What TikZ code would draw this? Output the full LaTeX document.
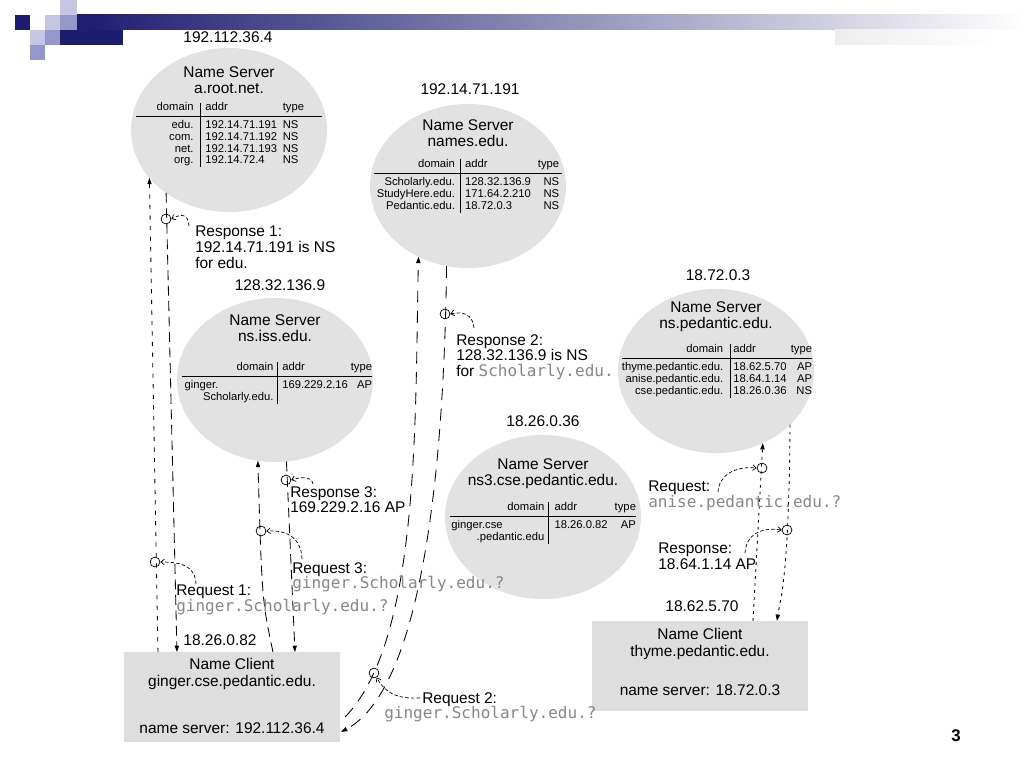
\documentclass[tikz,border=0pt]{standalone}
\usepackage{fontspec}
\setmainfont{Liberation Sans}
\setmonofont{DejaVu Sans Mono}
\usetikzlibrary{shapes.geometric, arrows.meta, calc, positioning}
\definecolor{navy}{RGB}{28, 28, 112}
\definecolor{lavender}{RGB}{198, 198, 228}
\definecolor{lavmid}{RGB}{150, 150, 202}
\definecolor{bandmid}{RGB}{180, 180, 208}
\definecolor{srvfill}{RGB}{226, 226, 226}
\definecolor{clifill}{RGB}{222, 222, 222}
\definecolor{codegray}{RGB}{135, 135, 135}
\newcommand{\srvtitle}{\fontsize{11}{11.5}\selectfont}
\newcommand{\tabfont}{\fontsize{8}{8.4}\selectfont}
\newcommand{\lblfont}{\fontsize{11}{11.2}\selectfont}
\newcommand{\code}[1]{{\ttfamily\fontsize{11.4}{11.2}\selectfont\color{codegray}#1}}
\newcommand{\gap}{\rule{0pt}{8pt}}
\setlength{\arrayrulewidth}{0.6pt}
\tikzset{
	server/.style={ellipse, fill=srvfill, minimum width=4.9cm, minimum height=4.1cm,
		inner sep=0pt, outer sep=0pt},
	client/.style={rectangle, fill=clifill, minimum width=5.4cm, minimum height=2.25cm,
		inner sep=0pt, outer sep=0pt},
	ip/.style={font=\lblfont, inner sep=0pt},
	srvname/.style={font=\srvtitle, align=center, inner sep=0pt},
	srvtab/.style={font=\tabfont, inner sep=0pt},
	lbl/.style={font=\lblfont, align=left, anchor=north west, inner sep=0pt},
	ring/.style={circle, draw, line width=0.5pt, inner sep=0pt, minimum size=7pt},
	msg/.style={draw, line width=0.6pt, -{Triangle[length=4.5pt,width=3pt]}},
	shortdash/.style={dash pattern=on 3pt off 4.5pt},
	longdash/.style={dash pattern=on 7pt off 4pt},
	longerdash/.style={dash pattern=on 8.5pt off 6pt},
	dotdash/.style={dash pattern=on 2pt off 3pt},
	lblarrow/.style={draw, line width=0.5pt, dash pattern=on 2.5pt off 1.5pt,
		-{Straight Barb[length=2.5pt,width=4pt]}},
}
\begin{document}
\begin{tikzpicture}[x=0.025cm, y=-0.025cm]
	\useasboundingbox (0,0) rectangle (1024,768);
	\fill[white] (0,0) rectangle (1024,768);
	% slide decoration
	\fill[navy] (15,15) rectangle (30,30);
	\fill[lavender] (60,0) rectangle (77,15);
	\fill[lavender] (45,15) rectangle (60,30);
	\fill[lavmid] (60,15) rectangle (77,30);
	\fill[lavender] (30,30) rectangle (45,45);
	\fill[lavmid] (45,30) rectangle (60,45);
	\fill[navy] (60,30) rectangle (123,45);
	\fill[lavmid] (30,45) rectangle (45,60);
	\shade[left color=navy, middle color=bandmid, right color=white] (77,15) rectangle (1024,30);
	\shade[left color=black!7, right color=white] (835,30) rectangle (995,45);

	% name servers
	\node[server] (root) at (229,130) {};
	\node[ip] (root-ip) at (228,37) {192.112.36.4};
	\node[srvname] (root-name) at (229,80) {Name Server\\a.root.net.};
	\node[srvtab] (root-tab) at (229,135) {%
		\begin{tabular}{@{\hspace{15pt}}r@{\hspace{5pt}}|@{\hspace{3pt}}l@{\hspace{4pt}}l@{\hspace{13pt}}}
			domain & addr & type\\[1.5pt] \hline
			\gap edu. & 192.14.71.191 & NS\\
			com. & 192.14.71.192 & NS\\
			net. & 192.14.71.193 & NS\\
			org. & 192.14.72.4 & NS
		\end{tabular}};

	\node[server] (names) at (468,186) {};
	\node[ip] (names-ip) at (470,89) {192.14.71.191};
	\node[srvname] (names-name) at (468,133) {Name Server\\names.edu.};
	\node[srvtab] (names-tab) at (468,186) {%
		\begin{tabular}{@{\hspace{2pt}}r@{\hspace{4pt}}|@{\hspace{3pt}}l@{\hspace{5pt}}r@{\hspace{2pt}}}
			domain & addr & type\\[1.5pt] \hline
			\gap Scholarly.edu. & 128.32.136.9 & NS\\
			StudyHere.edu. & 171.64.2.210 & NS\\
			Pedantic.edu. & 18.72.0.3 & NS
		\end{tabular}};

	\node[server] (iss) at (275,380) {};
	\node[ip] (iss-ip) at (280,285) {128.32.136.9};
	\node[srvname] (iss-name) at (275,328) {Name Server\\ns.iss.edu.};
	\node[srvtab] (iss-tab) at (277,383) {%
		\begin{tabular}{@{\hspace{2pt}}r@{\hspace{3pt}}|@{\hspace{3pt}}l@{\hspace{2pt}}r@{}}
			domain & addr & type\\[1.5pt] \hline
			\gap\begin{tabular}[t]{@{}l@{}}ginger.\\\hspace*{13pt}Scholarly.edu.\end{tabular}
			& 169.229.2.16 & AP
		\end{tabular}};

	\node[server] (ped) at (716,371) {};
	\node[ip] (ped-ip) at (718,275) {18.72.0.3};
	\node[srvname] (ped-name) at (716,317) {Name Server\\ns.pedantic.edu.};
	\node[srvtab] (ped-tab) at (717,371) {%
		\begin{tabular}{@{}r@{\hspace{5pt}}|@{\hspace{2pt}}l@{\hspace{3pt}}r@{}}
			domain & addr & type\\[1.5pt] \hline
			\gap thyme.pedantic.edu. & 18.62.5.70 & AP\\
			anise.pedantic.edu. & 18.64.1.14 & AP\\
			cse.pedantic.edu. & 18.26.0.36 & NS
		\end{tabular}};

	\node[server] (cse3) at (543,517) {};
	\node[ip] (cse3-ip) at (543,421) {18.26.0.36};
	\node[srvname] (cse3-name) at (543,474) {Name Server\\ns3.cse.pedantic.edu.};
	\node[srvtab] (cse3-tab) at (543,523) {%
		\begin{tabular}{@{\hspace{1pt}}r@{\hspace{3pt}}|@{\hspace{4pt}}l@{\hspace{5pt}}r@{}}
			domain & addr & type\\[1.5pt] \hline
			\gap\begin{tabular}[t]{@{}l@{}}ginger.cse\\\hspace*{18pt}.pedantic.edu\end{tabular}
			& 18.26.0.82 & AP
		\end{tabular}};

	% name clients
	\node[client] (ginger) at (232,697) {};
	\node[ip] (ginger-ip) at (220,640) {18.26.0.82};
	\node[srvname] (ginger-name) at (232,674) {Name Client\\ginger.cse.pedantic.edu.};
	\node[srvname] (ginger-ns) at (232,728) {name server: 192.112.36.4};

	\node[client] (thyme) at (700,666) {};
	\node[ip] (thyme-ip) at (702,606) {18.62.5.70};
	\node[srvname] (thyme-name) at (700,644) {Name Client\\thyme.pedantic.edu.};
	\node[srvname] (thyme-ns) at (700,690) {name server: 18.72.0.3};

	% queries and replies
	\draw[msg, shortdash] ($(ginger.north west)+(34,0)$) -- (root.211);
	\draw[msg, longdash] (root.225) -- ($(ginger.north west)+(53,0)$);
	\draw[msg, longerdash] ($(ginger.south east)+(5,-25)$) .. controls (420,640) and (415,420) .. (names.235);
	\draw[msg, longerdash] (names.255) .. controls (444,480) and (420,690) .. ($(ginger.south east)+(1,-10)$);
	\draw[msg, longdash] ($(ginger.north west)+(149,0)$) .. controls (262,600) .. (iss.258);
	\draw[msg, longdash] (iss.278) -- ($(ginger.north west)+(171,0)$);
	\draw[msg, dotdash] ($(thyme.north west)+(161,0)$) -- (ped.303);
	\draw[msg, dotdash] (ped.324) .. controls (789,580) and (780,600) .. ($(thyme.north west)+(185,0)$);

	% labels
	\node[lbl] (resp1) at (195,226) {Response 1:\\192.14.71.191 is NS\\for edu.};
	\node[lbl] (resp2) at (456,334) {Response 2:\\128.32.136.9 is NS\\for \code{Scholarly.edu.}};
	\node[lbl] (resp3) at (290,486) {Response 3:\\169.229.2.16 AP};
	\node[lbl] (req3) at (292,562) {Request 3:\\\code{ginger.Scholarly.edu.?}};
	\node[lbl] (req1) at (176,585) {Request 1:\\\code{ginger.Scholarly.edu.?}};
	\node[lbl] (req2) at (384,692) {\hspace*{27pt}Request 2:\\\code{ginger.Scholarly.edu.?}};
	\node[lbl] (treq) at (648,481) {Request:\\\code{anise.pedantic.edu.?}};
	\node[lbl] (tresp) at (658,543) {Response:\\18.64.1.14 AP};

	% message markers
	\node[ring] (r-resp1) at (166,219) {};
	\node[ring] (r-req1) at (155,562) {};
	\node[ring] (r-req3) at (261,531) {};
	\node[ring] (r-resp3) at (286,480) {};
	\node[ring] (r-resp2) at (445,314) {};
	\node[ring] (r-req2) at (374,673) {};
	\node[ring] (r-treq) at (762,468) {};
	\node[ring] (r-tresp) at (787,530) {};

	\draw[lblarrow] ([shift={(-6,0)}]resp1.north west) .. controls (188,213) and (181,214) .. (r-resp1.east);
	\draw[lblarrow] ([shift={(20,-1)}]req1.north west) .. controls (195,566) and (182,562) .. (r-req1.east);
	\draw[lblarrow] ([shift={(10,-3)}]req3.north west) .. controls (301,536) and (285,530) .. (r-req3.east);
	\draw[lblarrow] ([shift={(23,-2)}]resp3.north west) .. controls (312,476) and (300,477) .. (r-resp3.east);
	\draw[lblarrow] ([shift={(18,-6)}]resp2.north west) .. controls (473,314) and (462,311) .. (r-resp2.east);
	\draw[lblarrow] ([shift={(36,6)}]req2.north west) .. controls (398,699) and (386,694) .. (r-req2.-60);
	\draw[lblarrow] ([shift={(70,11)}]treq.north west) .. controls (719,475) and (735,466) .. (r-treq.west);
	\draw[lblarrow] ([shift={(87,10)}]tresp.north west) .. controls (746,535) and (760,527) .. (r-tresp.west);

	\node[font=\bfseries\fontsize{12}{12}\selectfont, inner sep=0pt] (pageno) at (956,736) {3};
\end{tikzpicture}
\end{document}
